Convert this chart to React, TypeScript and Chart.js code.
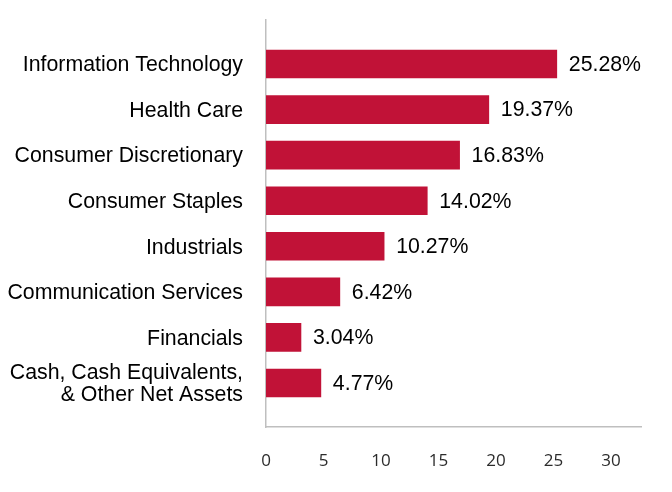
import React, { useEffect, useRef } from "react";
import { Chart, registerables } from "chart.js";

Chart.register(...registerables);

// Sector names, top to bottom; a nested array gives a two-line label
const SECTORS: (string | string[])[] = [
  "Information Technology",
  "Health Care",
  "Consumer Discretionary",
  "Consumer Staples",
  "Industrials",
  "Communication Services",
  "Financials",
  ["Cash, Cash Equivalents,", "& Other Net Assets"],
];

// Weight of each sector, in percent
const WEIGHTS: number[] = [25.28, 19.37, 16.83, 14.02, 10.27, 6.42, 3.04, 4.77];

// Value axis ticks
const X_TICKS: number[] = [0, 5, 10, 15, 20, 25, 30];
const X_MAX = 32.6;

const BAR_COLOR = "#C11237";
const AXIS_COLOR = "#BFBFBF";
const LABEL_FONT = "'Liberation Sans', Arial, sans-serif";
const LABEL_SIZE = 21.3;
// small downward nudge so the category text sits on the bar's centre line
const LABEL_NUDGE = 0.03;

const valueLabels = {
  id: "valueLabels",
  afterDatasetsDraw(chart: Chart) {
    const { ctx } = chart;
    const meta = chart.getDatasetMeta(0);
    ctx.save();
    ctx.font = `${LABEL_SIZE}px ${LABEL_FONT}`;
    ctx.fillStyle = "#000000";
    ctx.textAlign = "left";
    ctx.textBaseline = "middle";
    meta.data.forEach((bar: any, i: number) => {
      ctx.fillText(`${WEIGHTS[i].toFixed(2)}%`, bar.x + 12, bar.y + 1);
    });
    ctx.restore();
  },
};

export default function App() {
  const canvasRef = useRef<HTMLCanvasElement | null>(null);

  useEffect(() => {
    document.body.style.margin = "0";
    const canvas = canvasRef.current;
    if (!canvas) return;

    const chart = new Chart(canvas, {
      type: "bar",
      data: {
        datasets: [
          {
            data: WEIGHTS.map((w, i) => ({ x: w, y: i })),
            backgroundColor: BAR_COLOR,
            borderWidth: 0,
            barThickness: 28,
          },
        ],
      },
      options: {
        indexAxis: "y",
        animation: false,
        responsive: false,
        layout: { padding: { top: 20, right: 31, left: 0, bottom: 0 } },
        plugins: {
          legend: { display: false },
          tooltip: { enabled: false },
        },
        scales: {
          x: {
            type: "linear",
            position: "bottom",
            min: 0,
            max: X_MAX,
            grid: { display: false, drawTicks: false },
            border: { display: true, color: AXIS_COLOR, width: 1.5 },
            afterBuildTicks: (scale: any) => {
              scale.ticks = X_TICKS.map((v) => ({ value: v }));
            },
            afterFit: (scale: any) => {
              scale.height = 65;
              scale.paddingLeft = 0;
              scale.paddingRight = 0;
            },
            ticks: {
              padding: 24,
              color: "#2b2b2b",
              font: { family: "'Open Sans', sans-serif", size: 17 },
              maxRotation: 0,
              autoSkip: false,
            },
          },
          y: {
            type: "linear",
            position: "left",
            reverse: true,
            offset: false,
            min: -0.965,
            max: SECTORS.length - 1 + 0.965,
            grid: { display: false, drawTicks: false, offset: false },
            border: { display: true, color: AXIS_COLOR, width: 1.5 },
            afterBuildTicks: (scale: any) => {
              scale.ticks = SECTORS.map((_, i) => ({ value: i + LABEL_NUDGE }));
            },
            afterFit: (scale: any) => {
              scale.width = 266;
              scale.paddingTop = 0;
              scale.paddingBottom = 0;
            },
            ticks: {
              padding: 23,
              color: "#000000",
              font: { family: LABEL_FONT, size: LABEL_SIZE, lineHeight: 1.05 },
              autoSkip: false,
              callback: (value: any) => SECTORS[Math.round(Number(value))] ?? "",
            },
          },
        },
      },
      plugins: [valueLabels],
    });

    return () => chart.destroy();
  }, []);

  return (
    <div style={{ position: "absolute", left: 0, top: 0, width: 672, height: 492 }}>
      <canvas ref={canvasRef} width={672} height={492} />
    </div>
  );
}
